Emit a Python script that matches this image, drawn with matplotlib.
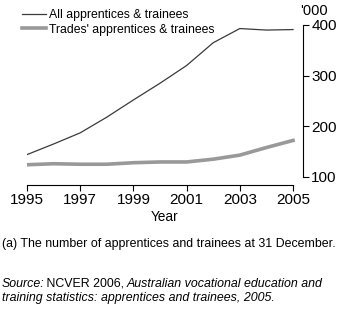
import matplotlib
matplotlib.use("Agg")
import matplotlib.pyplot as plt

years = [1995, 1996, 1997, 1998, 1999, 2000, 2001, 2002, 2003, 2004, 2005]
all_app = [144, 165, 187, 218, 252, 285, 320, 365, 393, 390, 391]
trades_app = [124, 126, 125, 125, 128, 129.5, 129.5, 135, 143, 158, 172]
xticks = [1995, 1997, 1999, 2001, 2003, 2005]
yticks = [100, 200, 300, 400]

plt.rcParams["font.family"] = ["Liberation Sans", "DejaVu Sans"]

W, H = 350, 314
fig = plt.figure(figsize=(W / 100, H / 100), dpi=100)
ax = fig.add_axes([27 / W, 1 - 185 / H, 276 / W, 160 / H])

ax.plot(years, all_app, color="#3a3a3a", lw=0.9, label="All apprentices & trainees")
ax.plot(years, trades_app, color="#999999", lw=2.6, label="Trades' apprentices & trainees")

ax.set_xlim(1995, 2005.375)
ax.set_ylim(84, 400)
ax.set_xticks(xticks)
ax.set_yticks(yticks)

for s in ["top", "left"]:
    ax.spines[s].set_visible(False)
ax.spines["right"].set_bounds(100, 400)
ax.spines["bottom"].set_bounds(1995, 2005)
for s in ["right", "bottom"]:
    ax.spines[s].set_linewidth(0.8)
    ax.spines[s].set_color("black")

ax.yaxis.tick_right()
ax.tick_params(axis="y", direction="out", length=4, width=0.8, labelsize=11, pad=2)
ax.tick_params(axis="x", direction="out", length=4, width=0.8, labelsize=11, pad=2)
ax.set_xlabel("Year", fontsize=9.8, labelpad=2)

fig.text(300 / W, 1 - 11 / H, "'000", fontsize=10.5, ha="left", va="center")

ax.legend(loc="upper left", bbox_to_anchor=(22 / W, 1 - 9 / H), bbox_transform=fig.transFigure,
          frameon=False, fontsize=8.8, handlelength=2.0, handletextpad=0.2,
          labelspacing=0.22, borderaxespad=0, borderpad=0)

fs = 8.9
fig.text(2 / W, 1 - 244 / H, "(a) The number of apprentices and trainees at 31 December.",
         fontsize=fs, ha="left", va="center")

t1 = fig.text(2 / W, 1 - 287 / H, "Source:", fontsize=fs, style="italic", ha="left", va="baseline")
t2 = fig.text(0, 0, " NCVER 2006, ", fontsize=fs, ha="left", va="baseline")
t3 = fig.text(0, 0, "Australian vocational education and", fontsize=fs, style="italic",
              ha="left", va="baseline")
fig.text(2 / W, 1 - 301 / H, "training statistics: apprentices and trainees, 2005.",
         fontsize=fs, style="italic", ha="left", va="baseline")

fig.canvas.draw()
r = fig.canvas.get_renderer()
inv = fig.transFigure.inverted()
b1 = t1.get_window_extent(r)
t2.set_position((inv.transform((b1.x1 - 2, 0))[0], t1.get_position()[1]))
b2 = t2.get_window_extent(r)
t3.set_position((inv.transform((b2.x1 - 1, 0))[0], t1.get_position()[1]))

fig.savefig("out.png", dpi=100)
